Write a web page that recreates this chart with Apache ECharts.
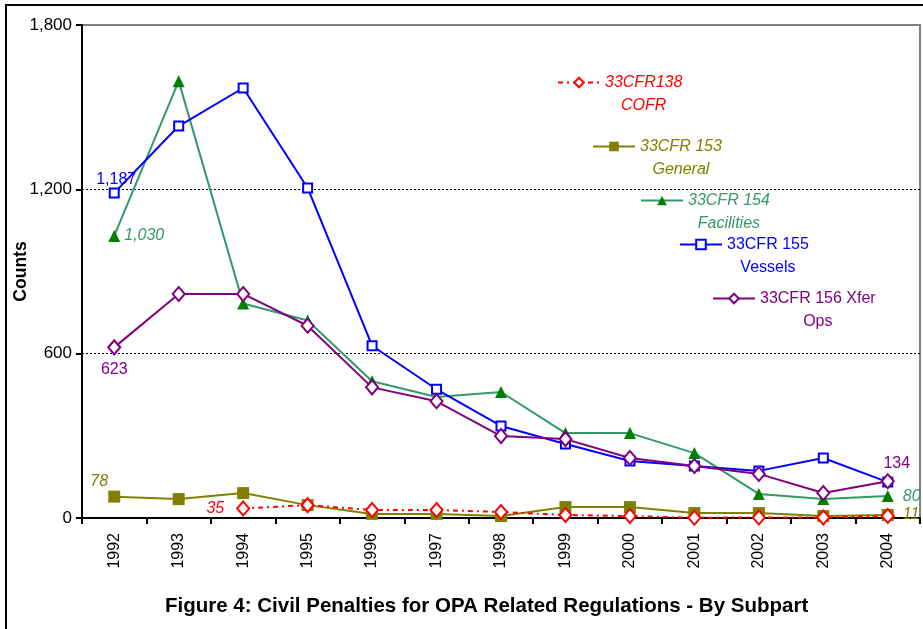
<!DOCTYPE html>
<html>
<head>
<meta charset="utf-8">
<script src="https://cdn.jsdelivr.net/npm/echarts@6/dist/echarts.min.js"></script>
<style>
  html, body { margin: 0; padding: 0; background: #fff; }
  #chart { width: 923px; height: 629px; }
</style>
</head>
<body>
<div id="chart"></div>
<script>
const years = ['1992', '1993', '1994', '1995', '1996', '1997', '1998', '1999', '2000', '2001', '2002', '2003', '2004']

// values
const cofr = [null, null, 35, 47, 29, 29, 22, 11, 7, 1, 2, 2, 7]
const general = [78, 69, 91, 47, 15, 15, 7, 40, 40, 18, 18, 7, 11]
const facilities = [1030, 1595, 783, 721, 499, 442, 460, 310, 310, 237, 88, 69, 80]
const vessels = [1187, 1431, 1570, 1205, 629, 470, 336, 270, 208, 190, 172, 219, 131]
const xferOps = [623, 818, 818, 702, 477, 426, 299, 288, 219, 190, 161, 91, 134]

const seriesNames = ['33CFR138', '33CFR 153', '33CFR 154', '33CFR 155', '33CFR 156 Xfer']
const seriesSubNames = ['COFR', 'General', 'Facilities', 'Vessels', 'Ops']
const yTicks = [0, 600, 1200, 1800]

const font = 'Liberation Sans, Arial, sans-serif'

// per-point labels shown in the original figure
function withLabels(values, labels) {
  return values.map((v, i) => {
    if (!labels[i]) return v
    return { value: v, label: Object.assign({ show: true, fontFamily: font, fontSize: 16 }, labels[i]) }
  })
}

function makeSeries(name, values, color, lineColor, symbol, size, lineType, labels) {
  return {
    name: name,
    type: 'line',
    data: withLabels(values, labels || {}),
    symbol: symbol,
    symbolSize: size,
    showAllSymbol: true,
    connectNulls: false,
    itemStyle: { color: color, borderWidth: 2 },
    lineStyle: { color: lineColor, width: 2, type: lineType || 'solid' },
    label: { show: false },
    emphasis: { disabled: true }
  }
}

function makeLegend(i, color, italic, left, centerY) {
  const st = { color: color, fontStyle: italic ? 'italic' : 'normal', fontSize: 16, fontFamily: font, align: 'center', lineHeight: 23 }
  return {
    data: [seriesNames[i]],
    left: left,
    top: centerY - 34.5,
    orient: 'vertical',
    padding: 0,
    itemWidth: 42,
    itemHeight: 12,
    selectedMode: false,
    formatter: () => '{l| }\n{l|' + seriesNames[i] + '}\n{l|' + seriesSubNames[i] + '}',
    textStyle: { rich: { l: st } }
  }
}

const chart = echarts.init(document.getElementById('chart'))
chart.setOption({
  animation: false,
  backgroundColor: '#fff',
  textStyle: { fontFamily: font },
  title: {
    text: 'Figure 4: Civil Penalties for OPA Related Regulations - By Subpart',
    left: 165,
    top: 596,
    padding: 0,
    textStyle: { fontSize: 20.5, fontWeight: 'bold', color: '#000', fontFamily: font }
  },
  graphic: [{
    type: 'rect',
    shape: { x: 6, y: 5, width: 960, height: 700 },
    style: { fill: 'none', stroke: '#000', lineWidth: 2 },
    silent: true
  }],
  legend: [
    makeLegend(0, '#ff0000', true, 557, 86),
    makeLegend(1, '#808000', true, 592, 150),
    makeLegend(2, '#339966', true, 640, 204),
    makeLegend(3, '#0000ff', false, 679, 248),
    makeLegend(4, '#800080', false, 712, 302)
  ],
  grid: {
    left: 82,
    right: 3,
    top: 25,
    bottom: 111,
    show: true,
    borderColor: '#808080',
    borderWidth: 2,
    outerBoundsMode: 'none'
  },
  xAxis: {
    type: 'category',
    data: years,
    boundaryGap: true,
    axisLine: { lineStyle: { color: '#000', width: 2 } },
    axisTick: { show: true, length: 6, lineStyle: { color: '#000', width: 2 } },
    axisLabel: { rotate: 90, fontSize: 16, color: '#000', margin: 15, fontFamily: font, interval: 0 },
    splitLine: { show: false }
  },
  yAxis: {
    type: 'value',
    min: yTicks[0],
    max: yTicks[yTicks.length - 1],
    interval: yTicks[1] - yTicks[0],
    name: 'Counts',
    nameLocation: 'middle',
    nameGap: 52,
    nameMoveOverlap: false,
    nameTextStyle: { fontSize: 17.5, fontWeight: 'bold', color: '#000', fontFamily: font },
    axisLine: { show: true, lineStyle: { color: '#000', width: 2 } },
    axisTick: { show: true, length: 6, lineStyle: { color: '#000', width: 2 } },
    axisLabel: {
      fontSize: 17, color: '#000', margin: 10, fontFamily: font,
      formatter: v => v.toLocaleString('en-US')
    },
    splitLine: {
      show: true,
      lineStyle: { color: ['rgba(0,0,0,0)', '#000', '#000', 'rgba(0,0,0,0)'], type: [2, 2], width: 1 }
    }
  },
  series: [
    makeSeries(seriesNames[1], general, '#808000', '#808000', 'rect', 12, 'solid', {
      0: { position: 'top', offset: [-15, 4], color: '#808000', fontStyle: 'italic', formatter: '78' },
      12: { position: 'right', distance: 9, color: '#808000', fontStyle: 'italic', formatter: '11' }
    }),
    makeSeries(seriesNames[2], facilities, '#008000', '#339966', 'triangle', 12, 'solid', {
      0: { position: 'right', distance: 4, color: '#339966', fontStyle: 'italic', formatter: '1,030' },
      12: { position: 'right', distance: 9, color: '#339966', fontStyle: 'italic', formatter: '80' }
    }),
    makeSeries(seriesNames[3], vessels, '#0000ff', '#0000ff', 'emptyRect', 9, 'solid', {
      0: { position: 'top', distance: 0, offset: [2, 0], color: '#0000ff', formatter: '1,187' }
    }),
    makeSeries(seriesNames[4], xferOps, '#800080', '#800080', 'emptyDiamond', [12, 14], 'solid', {
      0: { position: 'bottom', distance: 6, color: '#800080', formatter: '623' },
      12: { position: 'top', distance: 2, offset: [9, 0], color: '#800080', formatter: '134' }
    }),
    makeSeries(seriesNames[0], cofr, '#ff0000', '#ff0000', 'emptyDiamond', [12, 14], [5, 4, 2, 4], {
      2: { position: 'left', distance: 12, color: '#ff0000', fontStyle: 'italic', formatter: '35' }
    })
  ]
})
</script>
</body>
</html>
